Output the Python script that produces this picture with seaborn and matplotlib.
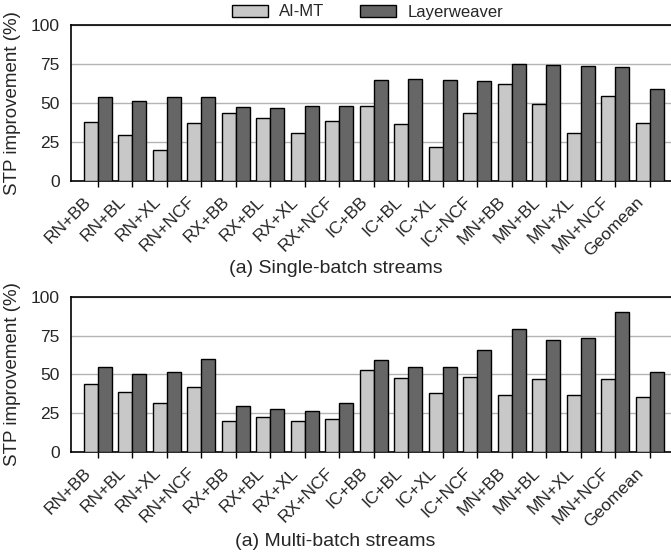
import matplotlib
matplotlib.use("Agg")
import matplotlib.pyplot as plt
import matplotlib.transforms as mtransforms
import seaborn as sns
import pandas as pd
from matplotlib.patches import Patch

categories = ["RN+BB", "RN+BL", "RN+XL", "RN+NCF", "RX+BB", "RX+BL", "RX+XL", "RX+NCF",
              "IC+BB", "IC+BL", "IC+XL", "IC+NCF", "MN+BB", "MN+BL", "MN+XL", "MN+NCF",
              "Geomean"]
series = ["AI-MT", "Layerweaver"]

single_aimt = [38.0, 29.2, 20.2, 37.1, 43.8, 40.1, 30.7, 38.6,
               48.3, 36.3, 22.1, 43.3, 62.2, 49.6, 30.9, 54.5, 37.3]
single_lw = [53.9, 51.5, 54.1, 54.1, 47.2, 47.0, 48.3, 48.1,
             64.6, 65.2, 65.0, 64.4, 75.1, 74.2, 74.0, 73.2, 59.2]

multi_aimt = [43.8, 38.8, 31.8, 42.1, 20.0, 22.3, 20.2, 21.0,
              52.6, 47.4, 38.2, 48.5, 36.9, 47.2, 36.5, 47.2, 35.4]
multi_lw = [54.5, 50.4, 51.3, 59.7, 29.4, 27.7, 26.4, 31.8,
            59.0, 54.5, 54.5, 65.5, 79.2, 71.9, 73.6, 90.3, 51.7]

yticks = [0, 25, 50, 75, 100]
titles = ["(a) Single-batch streams", "(a) Multi-batch streams"]
ylabel = "STP improvement (%)"

colors = {"AI-MT": "#c8c8c8", "Layerweaver": "#666666"}


def to_long(a, b):
    return pd.DataFrame({
        "bench": categories * 2,
        "system": [series[0]] * len(categories) + [series[1]] * len(categories),
        "value": list(a) + list(b),
    })


sns.set_style("white")
plt.rcParams["font.family"] = ["Liberation Sans", "DejaVu Sans"]

fig = plt.figure(figsize=(6.71, 5.57), dpi=100)
ax_top = fig.add_axes([0.1058, 0.675, 0.8942, 0.2801])
ax_bot = fig.add_axes([0.1058, 0.1885, 0.8942, 0.2788])

label_shift = mtransforms.ScaledTranslation(-14 / 100, -6 / 100, fig.dpi_scale_trans)

panels = [(ax_top, single_aimt, single_lw), (ax_bot, multi_aimt, multi_lw)]
for ax, a, b in panels:
    df = to_long(a, b)
    sns.barplot(data=df, x="bench", y="value", hue="system", hue_order=series,
                order=categories, palette=colors, edgecolor="black", linewidth=1.0,
                width=0.81, gap=0, legend=False, ax=ax, zorder=3)
    ax.set_xlim(-0.77, 16.61)
    ax.set_ylim(0, 100)
    ax.set_yticks(yticks)
    ax.set_yticklabels([str(t) for t in yticks], fontsize=12.5)
    ax.yaxis.grid(True, color="#b4b4b4", linewidth=1.0, zorder=0)
    ax.set_axisbelow(True)
    ax.set_xlabel("")
    ax.set_ylabel(ylabel, fontsize=13.5, labelpad=7)
    ax.set_xticks(range(len(categories)))
    ax.set_xticklabels(categories, rotation=45, ha="right", rotation_mode="anchor",
                       fontsize=12.5)
    ax.tick_params(axis="x", bottom=True, length=4, width=1, color="black", pad=1)
    ax.tick_params(axis="y", left=False, length=0, pad=8)
    for lab in ax.get_xticklabels():
        lab.set_transform(lab.get_transform() + label_shift)
    for side in ["top", "left", "bottom"]:
        ax.spines[side].set_visible(True)
        ax.spines[side].set_color("black")
        ax.spines[side].set_linewidth(1.2)
    ax.spines["right"].set_visible(False)

fig.text(0.5, 1 - 268 / 557, titles[0], ha="center", va="center", fontsize=14)
fig.text(0.5, 1 - 541 / 557, titles[1], ha="center", va="center", fontsize=14)

handles = [Patch(facecolor=colors[s], edgecolor="black", linewidth=1.0, label=s)
           for s in series]
fig.legend(handles=handles, loc="center", bbox_to_anchor=(0.548, 1 - 12 / 557),
           ncol=2, frameon=False, fontsize=12, handlelength=2.15, handleheight=0.72,
           columnspacing=2.15, handletextpad=0.66, borderaxespad=0)

fig.savefig("out.png", dpi=100)
